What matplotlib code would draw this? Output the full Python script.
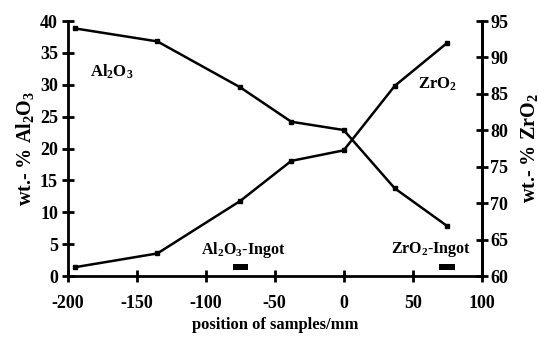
import matplotlib
matplotlib.use("Agg")
import matplotlib.pyplot as plt

positions = [-195, -135, -75, -38, 0, 37, 75]
al2o3 = [38.85, 36.8, 29.6, 24.2, 22.9, 13.75, 7.84]
zro2 = [61.2, 63.1, 70.3, 75.8, 77.25, 86.1, 92.0]
x_ticks = [-200, -150, -100, -50, 0, 50, 100]
left_ticks = [0, 5, 10, 15, 20, 25, 30, 35, 40]
right_ticks = [60, 65, 70, 75, 80, 85, 90, 95]
ingot_al = (-80, -69)
ingot_zr = (69, 81)

plt.rcParams['font.family'] = ['Liberation Serif', 'DejaVu Serif']
plt.rcParams['font.weight'] = 'bold'
plt.rcParams['axes.unicode_minus'] = False
plt.rcParams['mathtext.fontset'] = 'custom'
plt.rcParams['mathtext.rm'] = 'Liberation Serif:bold'
plt.rcParams['mathtext.bf'] = 'Liberation Serif:bold'
plt.rcParams['mathtext.default'] = 'rm'

fig = plt.figure(figsize=(5.39, 3.39), dpi=100)
ax = fig.add_axes([0.1256, 0.1858, 0.7681, 0.7522])
ax2 = ax.twinx()

ax.plot(positions, al2o3, color='black', lw=1.8, marker='s', ms=3.5)
ax2.plot(positions, zro2, color='black', lw=1.8, marker='s', ms=3.5)

ax.set_xlim(-200, 100)
ax.set_ylim(0, 40)
ax2.set_ylim(60, 95)
ax.set_xticks(x_ticks)
ax.set_yticks(left_ticks)
ax2.set_yticks(right_ticks)

for a in (ax, ax2):
    a.spines['top'].set_visible(False)
    for s in ('left', 'right', 'bottom'):
        a.spines[s].set_linewidth(2)
    a.tick_params(direction='inout', length=8, width=2, labelsize=13)
ax.tick_params(axis='x', pad=10)
ax.tick_params(axis='y', pad=3)
ax2.tick_params(axis='y', pad=2)
ax2.spines['left'].set_visible(False)
ax2.spines['bottom'].set_visible(False)

# ingot bars
ax.fill_between(ingot_al, 0.95, 1.85, color='black', lw=0)
ax.fill_between(ingot_zr, 0.95, 1.85, color='black', lw=0)

ax.text(-168, 32, r'Al$_2$O$_3$', ha='center', va='center', fontsize=12, fontweight='bold')
ax.text(68, 30, r'ZrO$_2$', ha='center', va='center', fontsize=12, fontweight='bold')
ax.text(-73, 4.1, r'Al$_2$O$_3$-Ingot', ha='center', va='center', fontsize=11.5, fontweight='bold')
ax.text(63, 4.2, r'ZrO$_2$-Ingot', ha='center', va='center', fontsize=11.5, fontweight='bold')

ax.set_xlabel('position of samples/mm', fontsize=12, fontweight='bold', labelpad=3)
ax.set_ylabel(r'wt.- % Al$_2$O$_3$', fontsize=14.5, fontweight='bold', labelpad=3)
ax2.set_ylabel(r'wt.- % ZrO$_2$', fontsize=14.5, fontweight='bold', labelpad=8)

for lab in ax.get_xticklabels() + ax.get_yticklabels() + ax2.get_yticklabels():
    lab.set_fontweight('bold')

fig.savefig('out.png', dpi=100)
